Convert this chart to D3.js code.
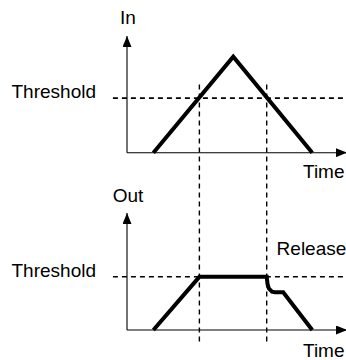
<!DOCTYPE html>
<html>
<head>
<meta charset="utf-8">
<script src="https://cdn.jsdelivr.net/npm/d3@7"></script>
<style>
	body { margin: 0; background: #fff; }
	text { font-family: "Liberation Sans", Arial, sans-serif; font-size: 19px; fill: #000; }
</style>
</head>
<body>
<div id="chart"></div>
<script>
// signal levels, threshold = 1
let threshold = 1;
let inTimes = [1.2, 4.83, 8.42];
let inLevels = [0, 1.76, 0];
let outTimes = [1.2, 3.29, 6.35, 6.39, 6.45, 6.59, 6.73, 7.1, 8.42];
let outLevels = [0, 1, 1, 0.86, 0.78, 0.72, 0.71, 0.71, 0];
let crossTimes = [3.29, 6.35];
let labels = { top: 'In', bottom: 'Out', thr: 'Threshold', time: 'Time', rel: 'Release' };

let width = 346;
let height = 360;

let svg = d3.select('#chart')
	.append('svg')
	.attr('width', width)
	.attr('height', height);

svg.append('defs').append('marker')
	.attr('id', 'arrow')
	.attr('viewBox', '0 0 11 9')
	.attr('refX', 11)
	.attr('refY', 4.5)
	.attr('markerWidth', 11)
	.attr('markerHeight', 9)
	.attr('markerUnits', 'userSpaceOnUse')
	.attr('orient', 'auto')
	.append('path')
	.attr('d', 'M0,0L11,4.5L0,9Z')
	.attr('fill', '#000');

let x = d3.scaleLinear().domain([0, 10]).range([127, 347]);
let yTop = d3.scaleLinear().domain([0, 2.14]).range([152.7, 36]);
let yBot = d3.scaleLinear().domain([0, 2.2]).range([330, 213]);

let line = function(ys){
	return d3.line()
		.x(function(d){ return x(d[0]); })
		.y(function(d){ return ys(d[1]); });
};

// vertical dashed markers through both panels
crossTimes.forEach(function(t){
	svg.append('line')
		.attr('x1', x(t)).attr('x2', x(t))
		.attr('y1', yTop(1.25)).attr('y2', yBot(-0.22))
		.attr('stroke', '#000')
		.attr('stroke-width', 1.4)
		.attr('stroke-dasharray', '5,4');
});

function panel(ys, times, levels, title, titleY, timeY){
	// threshold
	svg.append('line')
		.attr('x1', x(-0.64)).attr('x2', x(10))
		.attr('y1', ys(threshold)).attr('y2', ys(threshold))
		.attr('stroke', '#000')
		.attr('stroke-width', 1.6)
		.attr('stroke-dasharray', '5,4');

	svg.append('text')
		.attr('x', 11.5)
		.attr('y', ys(threshold))
		.text(labels.thr);

	// axes
	svg.append('line')
		.attr('x1', x(0)).attr('x2', x(0))
		.attr('y1', ys(0)).attr('y2', ys(ys.domain()[1]))
		.attr('stroke', '#000')
		.attr('stroke-width', 1.1)
		.attr('marker-end', 'url(#arrow)');

	svg.append('line')
		.attr('x1', x(0)).attr('x2', x(10))
		.attr('y1', ys(0)).attr('y2', ys(0))
		.attr('stroke', '#000')
		.attr('stroke-width', 1.1)
		.attr('marker-end', 'url(#arrow)');

	svg.append('text')
		.attr('text-anchor', 'middle')
		.attr('x', x(0) + 1)
		.attr('y', titleY)
		.text(title);

	svg.append('text')
		.attr('x', x(8.0))
		.attr('y', timeY)
		.text(labels.time);

	// signal
	svg.append('path')
		.datum(d3.zip(times, levels))
		.attr('d', line(ys))
		.attr('fill', 'none')
		.attr('stroke', '#000')
		.attr('stroke-width', 4)
		.attr('stroke-linejoin', 'miter');
}

panel(yTop, inTimes, inLevels, labels.top, 24, 177.5);
panel(yBot, outTimes, outLevels, labels.bottom, 201.7, 357);

svg.append('text')
	.attr('x', x(6.8))
	.attr('y', 255)
	.text(labels.rel);
</script>
</body>
</html>
